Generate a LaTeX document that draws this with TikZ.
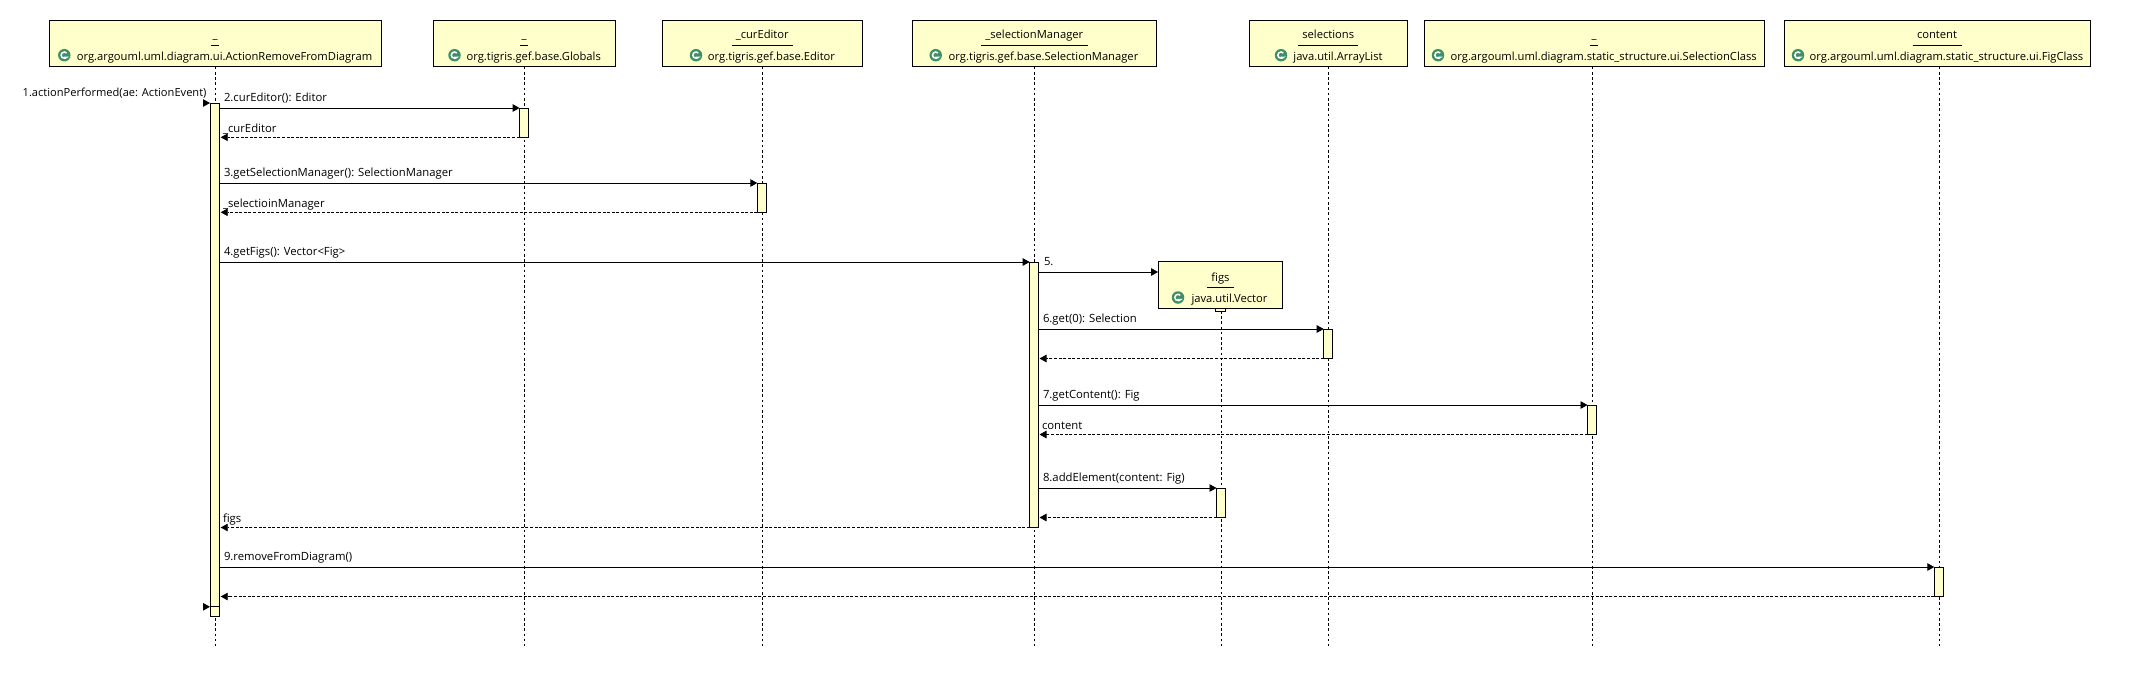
\documentclass[tikz,border=0pt]{standalone}
\usepackage{fontspec}
\setmainfont{Open Sans}
\usetikzlibrary{arrows.meta}
\definecolor{umlfill}{HTML}{FFFFCC}
\definecolor{iconfill}{HTML}{3F8F68}
\tikzset{
  x=1pt,y=-1pt,
  lifebox/.style={draw=black,fill=umlfill,line width=0.9pt,inner sep=0pt,outer sep=0pt},
  actbox/.style={draw=black,fill=umlfill,line width=0.9pt,inner sep=0pt,outer sep=0pt},
  lifeline/.style={draw=black,line width=0.8pt,dash pattern=on 2.6pt off 2.6pt},
  msg/.style={draw=black,line width=0.9pt,-{Triangle[length=7pt,width=7.5pt]}},
  ret/.style={draw=black,line width=0.8pt,dash pattern=on 3pt off 1.6pt,-{Triangle[length=7pt,width=7.5pt]},shorten >=1pt},
  txt/.style={inner sep=0pt,outer sep=0pt,anchor=base,font=\fontsize{11.2}{13}\selectfont,text=black},
  msgtxt/.style={txt,font=\fontsize{11.3}{13}\selectfont,anchor=base west},
  uline/.style={draw=black,line width=0.8pt},
  iconc/.style={circle,fill=iconfill,inner sep=0pt,outer sep=0pt,minimum size=12.5pt},
  iconarc/.style={draw=white,line width=1.5pt}
}
% id, left, right, class centre, icon x, lifeline x, underline half-width, name, class
\newcommand{\lifehead}[9]{%
  \node[lifebox,minimum width={(#3-#2)*1pt},minimum height=46.7pt] (b#1) at ({(#2+#3)/2},43.35) {};
  \node[txt] (n#1) at ({(#2+#3)/2},38.7) {#8};
  \node[txt] (c#1) at (#4,60.2) {#9};
  \coordinate (ua#1) at ({(#2+#3)/2-#7},45);
  \coordinate (ub#1) at ({(#2+#3)/2+#7},45);
  \draw[uline] (ua#1) -- (ub#1);
  \node[iconc] (i#1) at (#5,55.2) {};
  \draw[iconarc] (i#1) ++(45:3.2pt) arc[start angle=45,end angle=320,radius=3.2pt] -- ++(-2.8pt,0pt);
  \coordinate (e#1) at (#6,645.5);
  \draw[lifeline] (b#1.south -| e#1) -- (e#1);
}
% id, left, right, top, bottom
\newcommand{\activation}[5]{%
  \node[actbox,minimum width={(#3-#2)*1pt},minimum height={(#5-#4)*1pt}] (#1) at ({(#2+#3)/2},{(#4+#5)/2}) {};
}
\begin{document}
\begin{tikzpicture}
\path[use as bounding box,fill=white] (0,0) rectangle (2141,697);

\lifehead{1}{49}{381.5}{224.5}{64.3}{215.3}{4}{\_}{org.argouml.uml.diagram.ui.ActionRemoveFromDiagram}
\lifehead{2}{433}{615.5}{533.7}{454.5}{524.5}{4}{\_}{org.tigris.gef.base.Globals}
\lifehead{3}{662}{862.5}{771.5}{696}{762.6}{30.5}{\_curEditor}{org.tigris.gef.base.Editor}
\lifehead{4}{912}{1156.5}{1043.5}{935.7}{1034}{53.5}{\_selectionManager}{org.tigris.gef.base.SelectionManager}
\lifehead{5}{1249}{1407.5}{1338}{1281}{1328.3}{30}{selections}{java.util.ArrayList}
\lifehead{6}{1424}{1764}{1603.7}{1438}{1592.3}{4}{\_}{org.argouml.uml.diagram.static\_structure.ui.SelectionClass}
\lifehead{7}{1784}{2090}{1946.5}{1798}{1939.7}{24.5}{content}{org.argouml.uml.diagram.static\_structure.ui.FigClass}

% created object figs
\activation{af0}{1215.5}{1225}{308.5}{311}
\coordinate (e8) at (1221,645.5);
\draw[lifeline] (af0.south -| e8) -- (e8);
\node[lifebox,minimum width=124.5pt,minimum height=47pt] (b8) at (1220.3,285.3) {};
\node[txt] (n8) at (1220.5,281.8) {figs};
\coordinate (ua8) at (1207,287.3);
\coordinate (ub8) at (1234,287.3);
\draw[uline] (ua8) -- (ub8);
\node[iconc] (i8) at (1178,297.5) {};
\draw[iconarc] (i8) ++(45:3.2pt) arc[start angle=45,end angle=320,radius=3.2pt] -- ++(-2.8pt,0pt);
\node[txt] (c8) at (1229.5,302.5) {java.util.Vector};

% activations
\activation{a1}{210}{219.7}{103}{616}
\activation{a2}{519.6}{528.6}{108}{137.3}
\activation{a3}{757.3}{766.5}{183}{212.3}
\activation{a4}{1029.7}{1038.5}{262}{527.5}
\activation{a5}{1323.7}{1332.6}{329}{358.5}
\activation{a6}{1587.5}{1596.4}{405}{434.5}
\activation{a7}{1216.5}{1225.5}{488}{517.5}
\activation{a8}{1934.3}{1943.6}{567}{596.5}

% free ends
\coordinate (s1) at (203,103);
\coordinate (s2) at (203,606.8);

% messages
\draw[msg] (s1) -- (a1.north west);
\draw[msg] (a1.east |- a2.north) -- (a2.north west);
\draw[ret] (a2.south west) -- (a1.east |- a2.south);
\draw[msg] (a1.east |- a3.north) -- (a3.north west);
\draw[ret] (a3.south west) -- (a1.east |- a3.south);
\draw[msg] (a1.east |- a4.north) -- (a4.north west);
\coordinate (y5) at (0,272);
\draw[msg] (a4.east |- y5) -- (b8.west |- y5);
\draw[msg] (a4.east |- a5.north) -- (a5.north west);
\draw[ret] (a5.south west) -- (a4.east |- a5.south);
\draw[msg] (a4.east |- a6.north) -- (a6.north west);
\draw[ret] (a6.south west) -- (a4.east |- a6.south);
\draw[msg] (a4.east |- a7.north) -- (a7.north west);
\draw[ret] (a7.south west) -- (a4.east |- a7.south);
\draw[ret] (a4.south west) -- (a1.east |- a4.south);
\draw[msg] (a1.east |- a8.north) -- (a8.north west);
\draw[ret] (a8.south west) -- (a1.east |- a8.south);
\draw[msg] (s2) -- (a1.west |- s2);
\draw[draw=black,line width=0.8pt] (a1.west |- s2) -- (a1.east |- s2);

% message labels
\node[txt,font=\fontsize{11.1}{13}\selectfont,anchor=base east] (t1) at (206.5,96.8) {1.actionPerformed(ae: ActionEvent)};
\node[msgtxt] (t2) at (224,101.8) {2.curEditor(): Editor};
\node[msgtxt] (r2) at (223,132.8) {\_curEditor};
\node[msgtxt] (t3) at (224,176.8) {3.getSelectionManager(): SelectionManager};
\node[msgtxt] (r3) at (223,207.8) {\_selectioinManager};
\node[msgtxt] (t4) at (224,255.8) {4.getFigs(): Vector<Fig>};
\node[msgtxt] (t5) at (1044,265.8) {5.};
\node[msgtxt] (t6) at (1043,322.8) {6.get(0): Selection};
\node[msgtxt] (t7) at (1043,398.8) {7.getContent(): Fig};
\node[msgtxt] (r7) at (1042,429.5) {content};
\node[msgtxt] (t8) at (1043,481.8) {8.addElement(content: Fig)};
\node[msgtxt] (r4) at (223,522.5) {figs};
\node[msgtxt] (t9) at (224,560.8) {9.removeFromDiagram()};
\end{tikzpicture}
\end{document}
